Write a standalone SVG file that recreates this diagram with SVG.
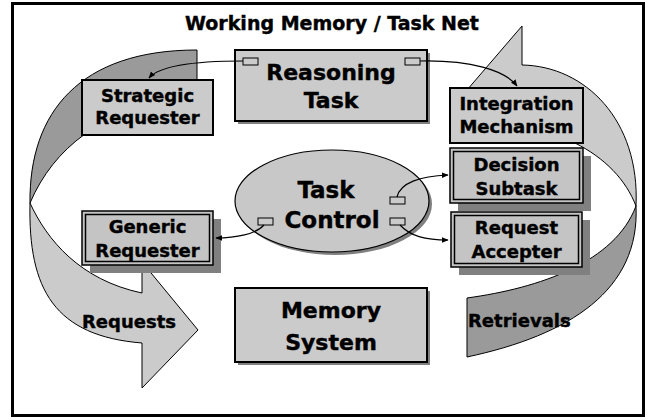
<svg xmlns="http://www.w3.org/2000/svg" width="650" height="420" viewBox="0 0 650 420">
<style>
text { font-family: "DejaVu Sans", Verdana, sans-serif; font-weight: bold; fill: #000; stroke: #000; stroke-width: 0.4; }
.t18 { font-size: 18px; text-anchor: middle; }
.t22 { font-size: 22px; text-anchor: middle; }
.box { fill: #cbcbcb; stroke: #000; stroke-width: 2; }
.dbl { fill: #c4c4c4; stroke: #000; stroke-width: 1.5; }
.shadow { fill: #808080; }
.port { fill: #cbcbcb; stroke: #000; stroke-width: 1; }
.light { fill: #cbcbcb; stroke: #000; stroke-width: 1; }
.dark { fill: #9a9a9a; stroke: #000; stroke-width: 1; }
.conn { fill: none; stroke: #000; stroke-width: 1.2; marker-end: url(#ah); }
</style>
<defs>
<marker id="ah" viewBox="0 0 10 10" refX="9" refY="5" markerWidth="7" markerHeight="7" orient="auto" markerUnits="userSpaceOnUse"><path d="M0,1 L10,5 L0,9 Z" fill="#000"/></marker>
</defs>
<rect x="0" y="0" width="650" height="420" fill="#fff"/>
<rect x="12.5" y="3.5" width="631" height="412" fill="#fff" stroke="#000" stroke-width="3"/>
<text x="332" y="30" style="font-size:19px;text-anchor:middle">Working Memory / Task Net</text>

<g id="ribbons">
  <path class="dark" d="M197,50 C 80,50 29,112 30,203 C 42,175 60,152 85,134 L197,81 Z"/>
  <path class="light" d="M30,203 C 47,240 80,280 142,293 L142,262 L198,330 L142,388 L142,343 C 55,336 28,290 30,203 Z"/>
  <path class="light" d="M522,26 L467,90 L560,90 L575,143 C 605,158 626,180 636,206 C 640,120 585,66 522,65 Z"/>
  <path class="dark" d="M636,206 C 640,290 570,335 467,357 L467,298 C 540,288 615,262 636,206 Z"/>
  <text x="82" y="328" style="font-size:18px">Requests</text>
  <text x="468" y="327" style="font-size:18px">Retrievals</text>
</g>

<g id="reasoning-task">
  <rect class="shadow" x="238" y="53" width="192" height="71"/>
  <rect class="box" x="235" y="50" width="192" height="71"/>
  <rect class="port" x="243" y="58" width="15" height="7"/>
  <rect class="port" x="405" y="58" width="15" height="7"/>
  <text class="t22" x="331" y="80">Reasoning</text>
  <text class="t22" x="331" y="108">Task</text>
</g>

<g id="strategic-requester">
  <rect class="box" x="82" y="80" width="131" height="55"/>
  <text class="t18" x="147.5" y="102">Strategic</text>
  <text class="t18" x="147.5" y="124">Requester</text>
</g>

<g id="integration-mechanism">
  <rect class="box" x="450" y="88" width="133" height="55"/>
  <text class="t18" x="516.5" y="110">Integration</text>
  <text class="t18" x="516.5" y="133">Mechanism</text>
</g>

<g id="decision-subtask">
  <rect class="shadow" x="458" y="156" width="133" height="55"/>
  <rect class="dbl" x="450" y="148" width="133" height="55"/>
  <rect class="dbl" x="453.5" y="151.5" width="126" height="48"/>
  <text class="t18" x="516.5" y="171">Decision</text>
  <text class="t18" x="516.5" y="195">Subtask</text>
</g>

<g id="request-accepter">
  <rect class="shadow" x="459" y="220" width="131" height="55"/>
  <rect class="dbl" x="451" y="212" width="131" height="55"/>
  <rect class="dbl" x="454.5" y="215.5" width="124" height="48"/>
  <text class="t18" x="516.5" y="234">Request</text>
  <text class="t18" x="516.5" y="258">Accepter</text>
</g>

<g id="generic-requester">
  <rect class="shadow" x="90" y="219" width="131" height="54"/>
  <rect class="dbl" x="82" y="211" width="131" height="54"/>
  <rect class="dbl" x="85.5" y="214.5" width="124" height="47"/>
  <text class="t18" x="147.5" y="233">Generic</text>
  <text class="t18" x="147.5" y="257">Requester</text>
</g>

<g id="memory-system">
  <rect class="shadow" x="238" y="291" width="192" height="74"/>
  <rect class="box" x="235" y="288" width="192" height="74"/>
  <text class="t22" x="331" y="318">Memory</text>
  <text class="t22" x="331" y="350">System</text>
</g>

<g id="task-control">
  <ellipse cx="335" cy="204" rx="97" ry="51" fill="#808080"/>
  <ellipse cx="332" cy="201" rx="97" ry="51" fill="#c8c8c8" stroke="#000" stroke-width="1.2"/>
  <rect class="port" x="258" y="218" width="15" height="7"/>
  <rect class="port" x="390" y="197" width="15" height="7"/>
  <rect class="port" x="390" y="218" width="15" height="7"/>
  <text x="326" y="198" style="font-size:23px;text-anchor:middle">Task</text>
  <text x="332" y="228" style="font-size:23px;text-anchor:middle">Control</text>
</g>

<g id="connectors">
  <path class="conn" d="M243,61 C 195,61 160,65 149,78"/>
  <path class="conn" d="M420,61 C 470,60 505,70 517,86"/>
  <path class="conn" d="M397,197 C 400,183 420,176 448,175"/>
  <path class="conn" d="M400,225 C 410,236 425,240 448,240"/>
  <path class="conn" d="M264,225 C 256,234 236,238 216,238"/>
</g>
</svg>
